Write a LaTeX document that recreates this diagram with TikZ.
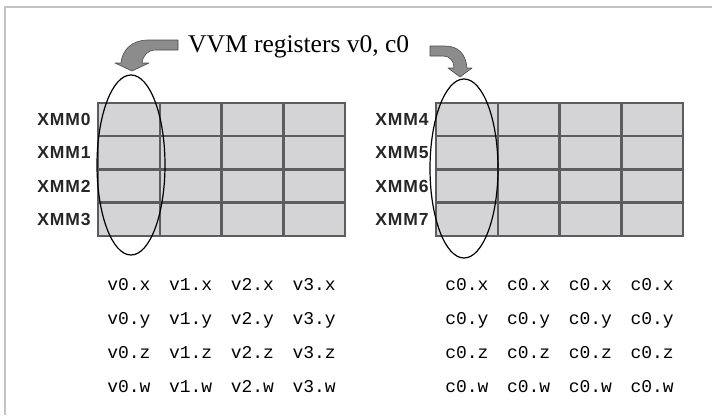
\documentclass[tikz,border=0pt]{standalone}
\usepackage{fontspec}
\setmainfont{Liberation Serif}
\setmonofont{Liberation Mono}
\newfontfamily\xmmfont[LetterSpace=5]{Liberation Sans}
\usetikzlibrary{positioning}

\definecolor{cellgray}{RGB}{212,212,214}
\definecolor{gridgray}{RGB}{92,92,92}
\definecolor{arrowgray}{RGB}{140,140,140}
\definecolor{framegray}{RGB}{195,195,195}

\tikzset{
  cell/.style={draw=gridgray, fill=cellgray, line width=2.5pt,
    minimum width=61.75pt, minimum height=33.25pt, inner sep=0pt},
  reg/.style={font=\xmmfont\fontsize{17.5}{17.5}\selectfont\bfseries, inner sep=0pt, text=black!85},
  comp/.style={font=\ttfamily\fontsize{18}{18}\selectfont, inner sep=0pt, anchor=base},
  bendarrow/.style={fill=arrowgray, draw=gray!60!black, line width=0.6pt, line join=round},
}

\begin{document}
\begin{tikzpicture}[x=1pt, y=-1pt]
  \useasboundingbox (0,0) rectangle (712,415);

  % frame
  \draw[framegray, line width=2.5pt] (5,415) -- (5,7) -- (712,7);

  % title
  \node[font=\fontsize{25.5}{25.5}\selectfont, anchor=base west, inner sep=0pt] (title) at (188,52) {VVM registers v0, c0};

  % register cells
  \foreach \r in {0,...,3} {
    \foreach \c in {0,...,3} {
      \node[cell] (v\r\c) at ({128.9+61.75*\c},{119.6+33.25*\r}) {};
      \node[cell] (c\r\c) at ({466.9+61.75*\c},{119.6+33.25*\r}) {};
    }
  }

  % register names
  \foreach \r in {0,...,3} {
    \pgfmathtruncatemacro\k{\r+4}
    \node[reg, left=6pt of v\r0] (xmm\r) {XMM\r};
    \node[reg, left=6pt of c\r0] (xmm\k) {XMM\k};
  }

  % ellipses
  \draw[line width=1.2pt] (131,165) ellipse [x radius=34pt, y radius=90pt];
  \draw[line width=1.2pt] (464,168.5) ellipse [x radius=34pt, y radius=89.5pt];

  % bent arrows
  \draw[bendarrow] (178,40) -- (148,40) .. controls (132,40) and (122,50) .. (121,63)
    -- (115,63) -- (132,71) -- (149,63) -- (142,63)
    .. controls (143,55) and (148,50) .. (156,50) -- (178,50) -- cycle;
  \draw[bendarrow] (430,46) -- (445,46) .. controls (458,46) and (466,54) .. (467,68)
    -- (472,68) -- (460,77) -- (448,68) -- (454,68)
    .. controls (454,61) and (450,56) .. (443,56) -- (430,56) -- cycle;

  % components
  \foreach \r/\f in {0/x,1/y,2/z,3/w} {
    \foreach \c in {0,...,3} {
      \node[comp] (vt\r\c) at ({128.9+61.75*\c},{290+34*\r}) {v\c.\f};
      \node[comp] (ct\r\c) at ({466.9+61.75*\c},{290+34*\r}) {c0.\f};
    }
  }
\end{tikzpicture}
\end{document}
